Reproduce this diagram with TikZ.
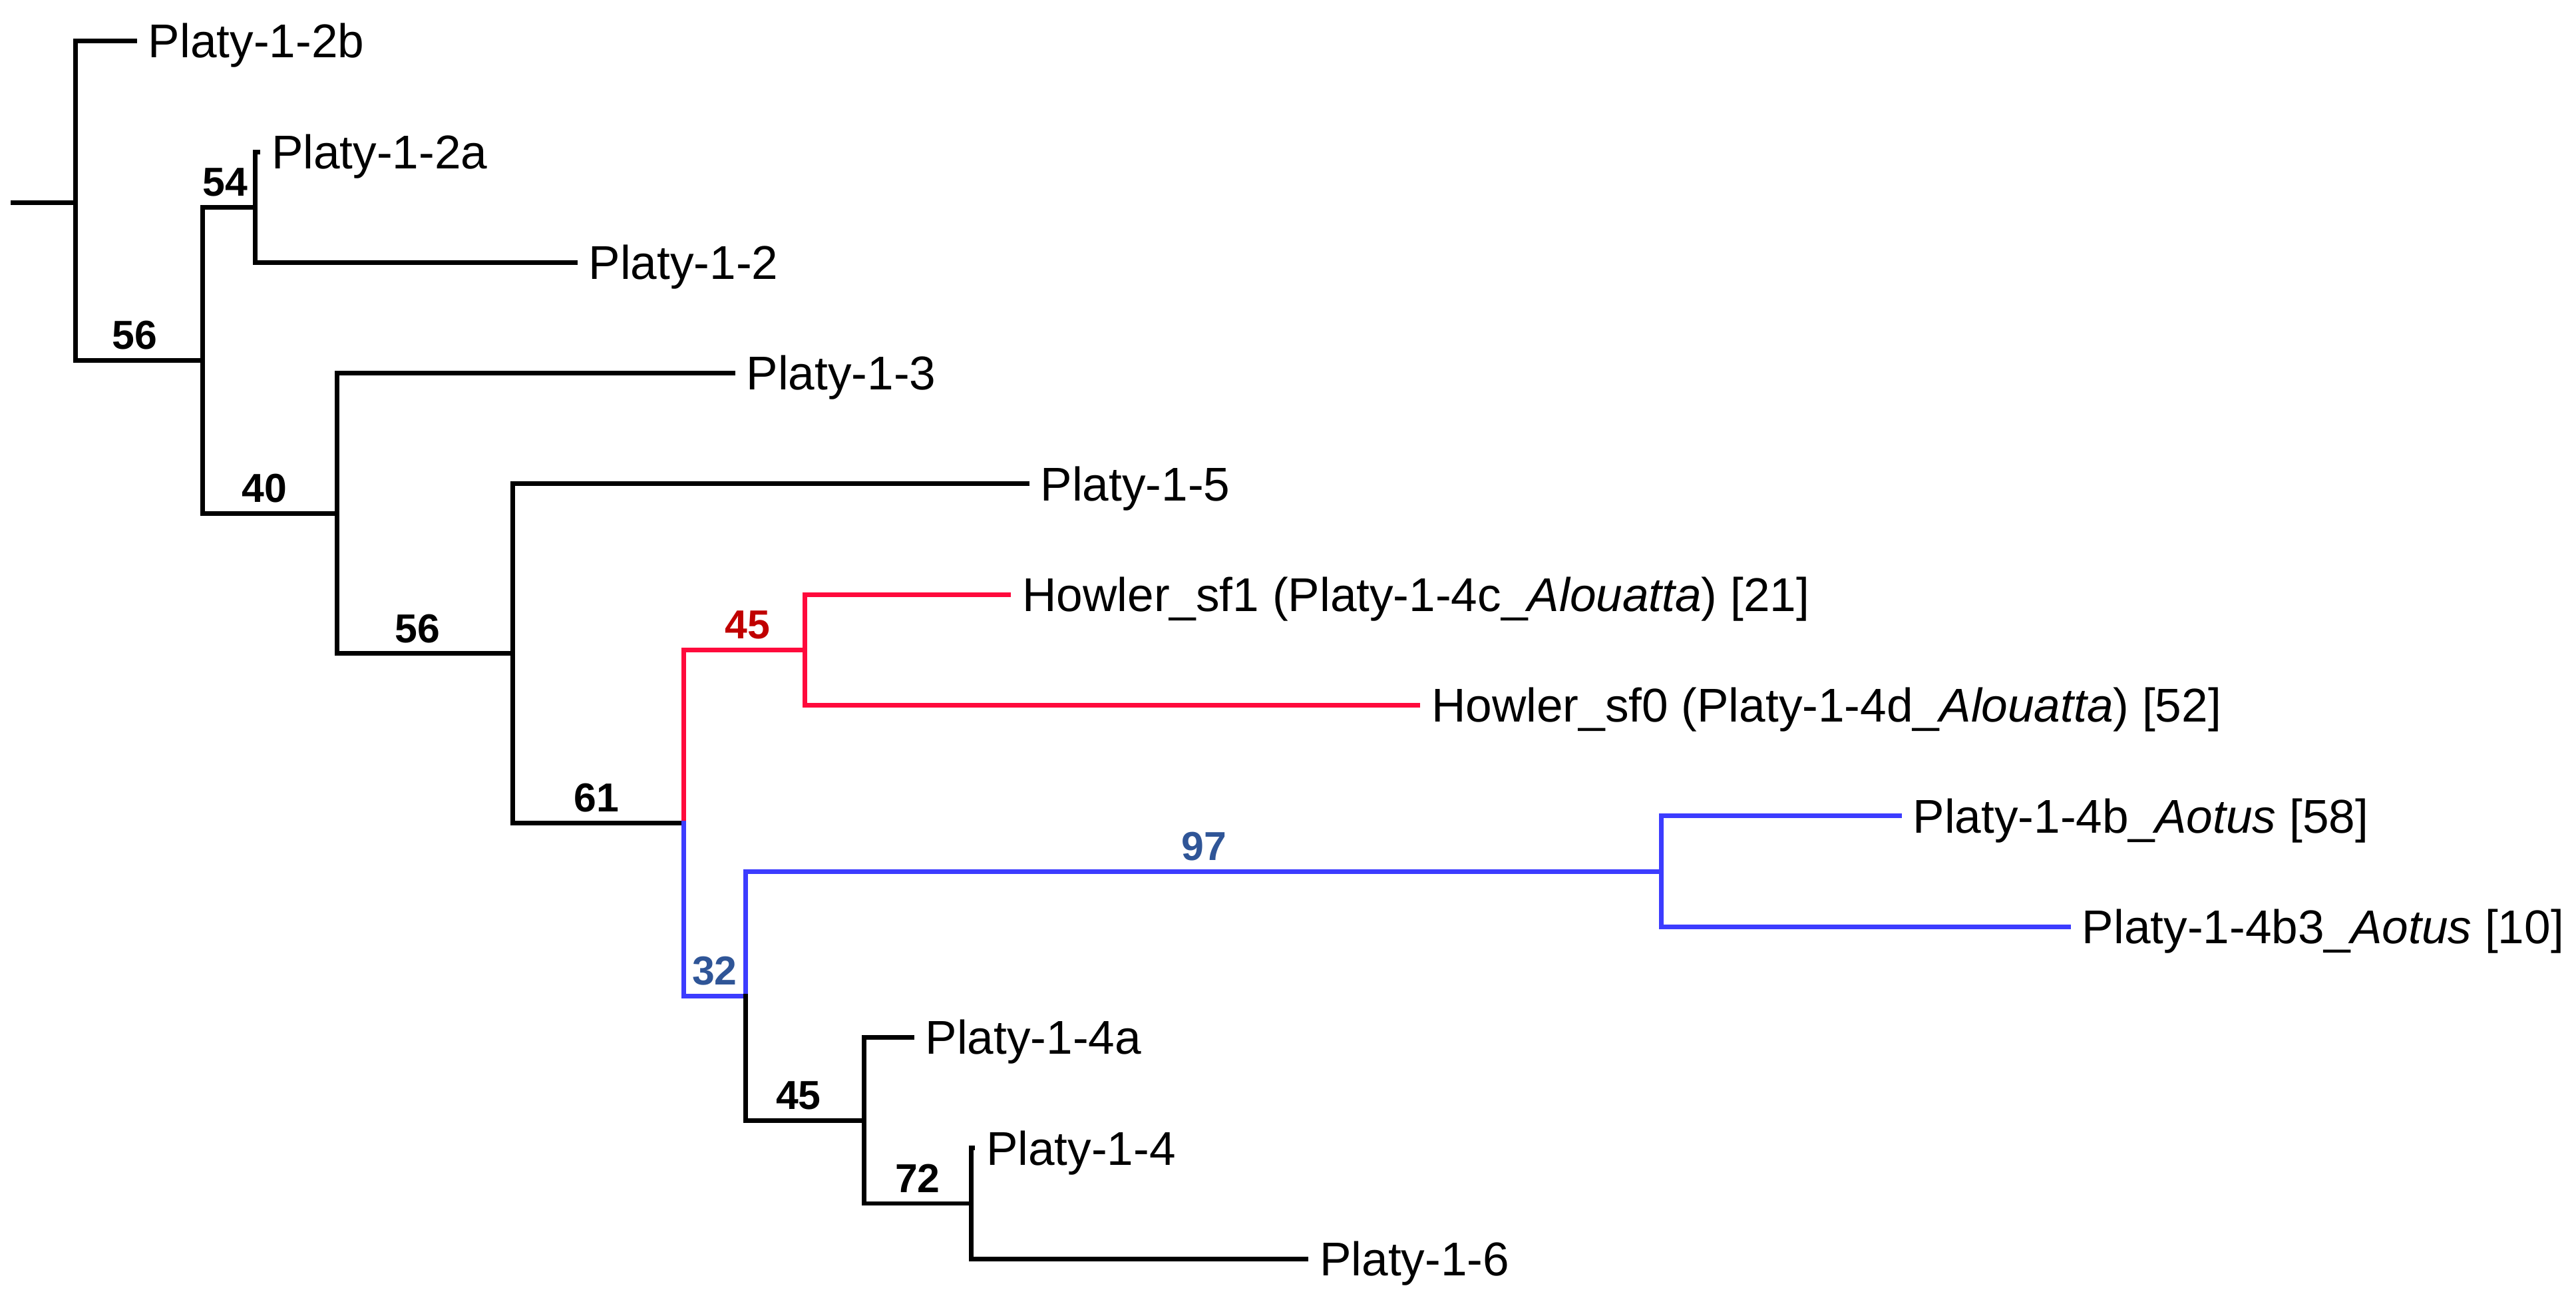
\documentclass[tikz,border=0pt]{standalone}
\usepackage{fontspec}
\setmainfont{Liberation Sans}
\definecolor{redline}{HTML}{FF0A3C}
\definecolor{redlab}{HTML}{C00000}
\definecolor{blueline}{HTML}{3C3CFF}
\definecolor{bluelab}{HTML}{2F5597}
\begin{document}
\begin{tikzpicture}[x=0.025cm,y=-0.025cm,
  br/.style={line width=2pt, line cap=rect},
  leaf/.style={anchor=base west, inner sep=0pt, font=\fontsize{20.5}{24}\selectfont, xshift=0.2cm, yshift=-0.255cm},
  lab/.style={anchor=south, inner sep=0pt, text depth=0pt, font=\bfseries\fontsize{17.5}{20}\selectfont, yshift=0.16cm}]
\useasboundingbox (0,0) rectangle (1567.9,788.6);
% internal nodes
\coordinate (stub) at (8,123.5);
\coordinate (root) at (46,123.5);
\coordinate (n56a) at (123.5,219.2);
\coordinate (n54) at (155.5,126);
\coordinate (n40) at (205,312.4);
\coordinate (n56b) at (312,397.6);
\coordinate (n61) at (416,500.8);
\coordinate (nR) at (490,395.5);
\coordinate (n32) at (454,606);
\coordinate (n97) at (1011,530.2);
\coordinate (n45) at (526,681.8);
\coordinate (n72) at (591,732.3);
% leaf tips
\coordinate (t2b) at (82,25);
\coordinate (t2a) at (157,92.4);
\coordinate (t2) at (350,159.7);
\coordinate (t3) at (446,227.1);
\coordinate (t5) at (625,294.4);
\coordinate (tsf1) at (614,361.8);
\coordinate (tsf0) at (863,429.2);
\coordinate (t4b) at (1156,496.5);
\coordinate (t4b3) at (1259,563.9);
\coordinate (t4a) at (555,631.2);
\coordinate (t4) at (592,698.6);
\coordinate (t6) at (795,766);
% branches
\draw[br] (stub) -- (root);
\draw[br] (t2b) -| (root);
\draw[br] (n56a) -| (root);
\draw[br] (n54) -| (n56a);
\draw[br] (n40) -| (n56a);
\draw[br] (t2a) -| (n54);
\draw[br] (t2) -| (n54);
\draw[br] (t3) -| (n40);
\draw[br] (n56b) -| (n40);
\draw[br] (t5) -| (n56b);
\draw[br] (n61) -| (n56b);
\draw[br,redline] (nR) -| (n61);
\draw[br,blueline] (n32) -| (n61);
\draw[br,redline] (tsf1) -| (nR);
\draw[br,redline] (tsf0) -| (nR);
\draw[br,blueline] (n97) -| (n32);
\draw[br] (n45) -| (n32);
\draw[br,blueline] (t4b) -| (n97);
\draw[br,blueline] (t4b3) -| (n97);
\draw[br] (t4a) -| (n45);
\draw[br] (n72) -| (n45);
\draw[br] (t4) -| (n72);
\draw[br] (t6) -| (n72);
% leaf labels
\node[leaf] (l2b) at (t2b) {Platy-1-2b};
\node[leaf] (l2a) at (t2a) {Platy-1-2a};
\node[leaf] (l2) at (t2) {Platy-1-2};
\node[leaf] (l3) at (t3) {Platy-1-3};
\node[leaf] (l5) at (t5) {Platy-1-5};
\node[leaf] (lsf1) at (tsf1) {Howler\_sf1 (Platy-1-4c\_\textit{Alouatta}) [21]};
\node[leaf] (lsf0) at (tsf0) {Howler\_sf0 (Platy-1-4d\_\textit{Alouatta}) [52]};
\node[leaf] (l4b) at (t4b) {Platy-1-4b\_\textit{Aotus} [58]};
\node[leaf] (l4b3) at (t4b3) {Platy-1-4b3\_\textit{Aotus} [10]};
\node[leaf] (l4a) at (t4a) {Platy-1-4a};
\node[leaf] (l4) at (t4) {Platy-1-4};
\node[leaf] (l6) at (t6) {Platy-1-6};
% support values
\node[lab] (b56a) at (82,219.2) {56};
\node[lab] (b54) at (137,126) {54};
\node[lab] (b40) at (161,312.4) {40};
\node[lab] (b56b) at (254,397.6) {56};
\node[lab] (b61) at (363,500.8) {61};
\node[lab,text=redlab] (bR) at (455,395.5) {45};
\node[lab,text=bluelab] (b32) at (435,606) {32};
\node[lab,text=bluelab] (b97) at (733,530.2) {97};
\node[lab] (b45) at (486,681.8) {45};
\node[lab] (b72) at (558.5,732.3) {72};
\end{tikzpicture}
\end{document}
